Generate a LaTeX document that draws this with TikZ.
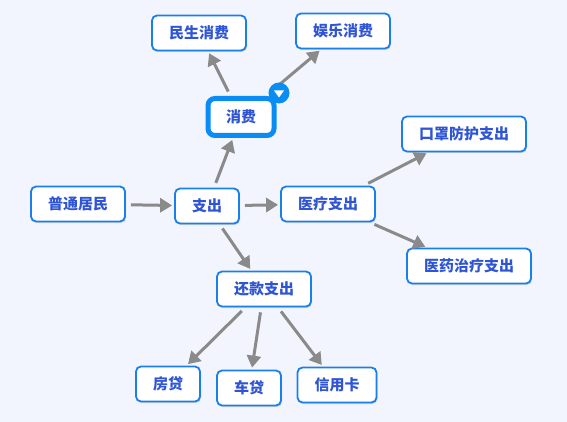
\documentclass[tikz,border=0pt]{standalone}
\usepackage{fontspec}
\setmainfont{Noto Sans CJK SC}
\usepackage{xcolor}
\usetikzlibrary{arrows.meta, shadows, shapes.geometric}
\definecolor{bgblue}{HTML}{F2F5FE}
\definecolor{boxblue}{HTML}{1A7FE8}
\definecolor{txtblue}{HTML}{2F55D4}
\definecolor{linkgray}{HTML}{8A8A8A}
\definecolor{selblue}{HTML}{0A8CF5}

\begin{document}
\begin{tikzpicture}[x=1pt, y=-1pt,
    box/.style={rectangle, draw=boxblue, line width=1.8pt, fill=white, rounded corners=5pt, minimum height=35pt, inner xsep=17pt, font=\fontsize{15}{17}\selectfont\bfseries, text=txtblue, drop shadow={shadow xshift=1pt, shadow yshift=-1.5pt, opacity=0.25}},
    selbox/.style={box, draw=selblue, line width=5pt, rounded corners=7pt, minimum width=66pt, minimum height=37pt},
    badge/.style={circle, fill=selblue, inner sep=0pt, minimum size=21pt},
    link/.style={-{Triangle[length=12pt, width=14pt]}, line width=3pt, draw=linkgray, shorten <=5pt, shorten >=2pt}]
    \fill[bgblue] (0,0) rectangle (567,422);
    \node[box] (jumin) at (78,204) {普通居民};
    \node[box] (zhichu) at (207,206) {支出};
    \node[selbox] (xiaofei) at (241,117) {消费};
    \node[box] (minsheng) at (199,33) {民生消费};
    \node[box] (yule) at (343,31) {娱乐消费};
    \node[box] (yiliao) at (328,204) {医疗支出};
    \node[box] (kouzhao) at (464,134) {口罩防护支出};
    \node[box] (yiyao) at (469,266) {医药治疗支出};
    \node[box] (huankuan) at (264,289) {还款支出};
    \node[box] (fangdai) at (168,384) {房贷};
    \node[box] (chedai) at (249,388) {车贷};
    \node[box] (xinyong) at (337,385) {信用卡};
    \draw[link] (jumin) -- (zhichu);
    \draw[link] (zhichu) -- (xiaofei);
    \draw[link] (zhichu) -- (yiliao);
    \draw[link] (zhichu) -- (huankuan);
    \draw[link] (xiaofei) -- (minsheng);
    \draw[link] (xiaofei) -- (yule);
    \draw[link] (yiliao) -- (kouzhao);
    \draw[link] (yiliao) -- (yiyao);
    \draw[link] (huankuan) -- (fangdai);
    \draw[link] (huankuan) -- (chedai);
    \draw[link] (huankuan) -- (xinyong);
    % badge of the selected node
    \node[badge] (badge) at (279,93) {};
    \fill[white] ([xshift=-5pt,yshift=2.5pt]badge.center) -- ([xshift=5pt,yshift=2.5pt]badge.center) -- ([yshift=-4.5pt]badge.center) -- cycle;
\end{tikzpicture}
\end{document}
